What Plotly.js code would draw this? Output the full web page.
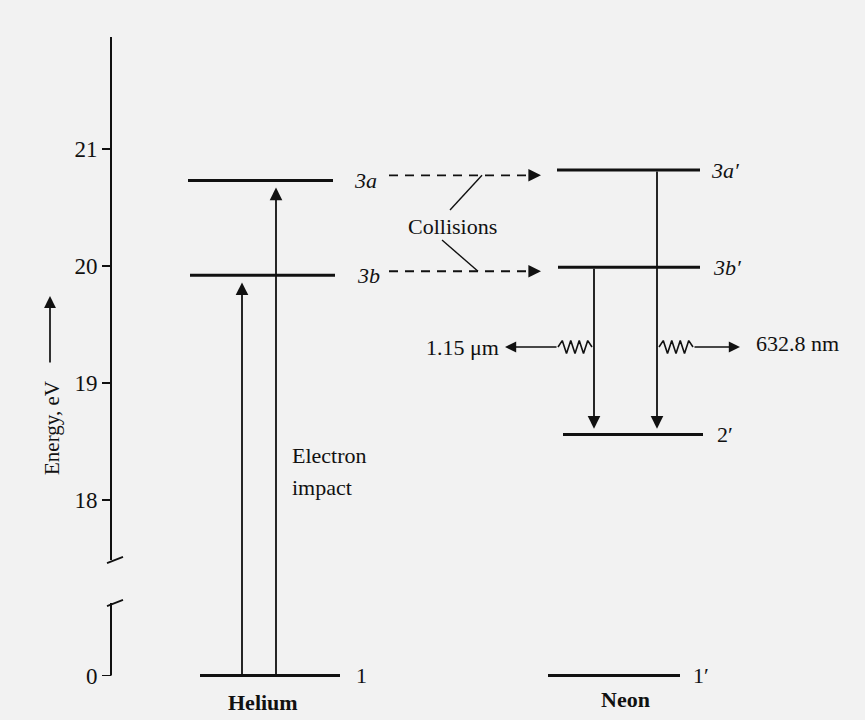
<!DOCTYPE html>
<html>
<head>
<meta charset="utf-8">
<script src="https://cdn.plot.ly/plotly-3.0.1.min.js"></script>
<style>
  html, body { margin: 0; padding: 0; background: #f2f2f2; }
  #chart { width: 865px; height: 720px; }
</style>
</head>
<body>
<div id="chart"></div>
<script>
// ---------------- DATA ----------------
const heliumLevels   = ['1', '3a', '3b'];
const heliumEnergies = [0, 20.73, 19.92];          // eV
const neonLevels     = ['1′', '3a′', '3b′', '2′'];
const neonEnergies   = [0, 20.82, 19.99, 18.56];   // eV
const tickValues     = [0, 18, 19, 20, 21];
const atomNames      = ['Helium', 'Neon'];
const pumpTargets    = ['3b', '3a'];               // electron impact (He 1 -> 3b, 3a)
const transferPairs  = [['3a', '3a′'], ['3b', '3b′']];  // collisions
const laserFrom      = ['3b′', '3a′'];             // to 2′
const laserTo        = ['2′', '2′'];
const laserLabels    = ['1.15 μm', '632.8 nm'];
const axisTitle      = 'Energy, eV';

// ---------------- LAYOUT / STYLE ----------------
const INK = '#111111';
const SERIF = 'Liberation Serif, Times New Roman, serif';
const BREAK_BASE = 16.5;                 // where 0 eV is drawn below the axis break
const yPos = E => (E === 0 ? BREAK_BASE : E);
const PX = 117;                          // px per eV (for pixel-sized offsets)
const Y_TOP = 20 + 266 / PX, Y_BOT = 20 - 454 / PX;

const heEnergy = Object.fromEntries(heliumLevels.map((n, i) => [n, heliumEnergies[i]]));
const neEnergy = Object.fromEntries(neonLevels.map((n, i) => [n, neonEnergies[i]]));
const heSpan = {'1': [200, 340], '3a': [188, 333], '3b': [190, 335]};
const neSpan = {'1′': [548, 680], '3a′': [557, 700], '3b′': [558, 700], '2′': [563, 703]};
const heLabelGap = {'1': 14, '3a': 19, '3b': 20};
const neLabelGap = {'1′': 11, '3a′': 9, '3b′': 11, '2′': 12};
const AXIS_X = 111;

const traces = [];
const annotations = [];
const line = (x, y, w, dash) => traces.push({
  type: 'scatter', mode: 'lines', x, y, hoverinfo: 'skip', showlegend: false,
  line: {color: INK, width: w, dash: dash || 'solid'}
});
const arrow = (x, y, ax, ay, w) => annotations.push({
  x, y, ax, ay, xref: 'x', yref: 'y', axref: 'x', ayref: 'y', text: '',
  showarrow: true, arrowhead: 2, arrowsize: 1.4, arrowwidth: w || 1.8,
  arrowcolor: INK, standoff: 0, startstandoff: 0
});
const label = (text, x, y, opts) => annotations.push(Object.assign({
  text, x, y, xref: 'x', yref: 'y', showarrow: false,
  font: {family: SERIF, size: 22, color: INK}, xanchor: 'left', yanchor: 'middle'
}, opts || {}));

// broken energy axis
const upperTop = 20 + (266 - 37) / PX, upperBot = 20 - (560 - 266) / PX;
const lowerTop = 20 - (603 - 266) / PX;
line([AXIS_X, AXIS_X], [upperTop, upperBot], 2);
line([AXIS_X, AXIS_X], [lowerTop, BREAK_BASE], 2);
line([AXIS_X - 4, AXIS_X + 12], [upperBot - 0.027, upperBot + 0.027], 1.7);
line([AXIS_X - 4, AXIS_X + 12], [lowerTop - 0.027, lowerTop + 0.027], 1.7);

// axis title + arrow
label(axisTitle, 52, 20 - (428 - 266) / PX, {textangle: -90, xanchor: 'center', font: {family: SERIF, size: 21, color: INK}});
arrow(50, 20 - (296 - 266) / PX, 50, 20 - (364 - 266) / PX, 1.7);

// energy levels
heliumLevels.forEach(n => {
  const s = heSpan[n], y = yPos(heEnergy[n]);
  line(s, [y, y], 3);
  label(n === '1' ? '1' : '<i>' + n + '</i>', s[1] + heLabelGap[n], y);
});
neonLevels.forEach(n => {
  const s = neSpan[n], y = yPos(neEnergy[n]);
  line(s, [y, y], 3);
  label(n === '1′' || n === '2′' ? n : '<i>' + n + '</i>', s[1] + neLabelGap[n], y);
});

// atom names under the ground levels
label('<b>' + atomNames[0] + '</b>', (heSpan['1'][0] + heSpan['1'][1]) / 2 - 7, yPos(0), {xanchor: 'center', yshift: -27});
label('<b>' + atomNames[1] + '</b>', (neSpan['1′'][0] + neSpan['1′'][1]) / 2 + 11, yPos(0), {xanchor: 'center', yshift: -24});

// electron impact pumping
const pumpX = {'3b': 242, '3a': 276};
pumpTargets.forEach(n => arrow(pumpX[n], heEnergy[n] - 0.06, pumpX[n], yPos(0)));
label('Electron', 290, 20 - (455 - 266) / PX);
label('impact', 290, 20 - (487 - 266) / PX);

// collisional transfer (dashed arrows)
const dashY = [];
transferPairs.forEach(([he, ne]) => {
  const y = (heEnergy[he] + neEnergy[ne]) / 2;
  dashY.push(y);
  line([389, 530], [y, y], 1.8, '9px,7px');
  arrow(541, y, 528, y, 1.8);
});
label('Collisions', 452, 20 - (226 - 266) / PX, {xanchor: 'center'});
line([450, 482], [20 - (210 - 266) / PX, dashY[0]], 1.4);
line([442, 478], [20 - (240 - 266) / PX, dashY[1]], 1.4);

// laser transitions with wavy emission arrows
const laserX = [594, 657];
const emitY = 20 - (347 - 266) / PX;
laserFrom.forEach((from, i) => {
  const x = laserX[i];
  arrow(x, neEnergy[laserTo[i]] + 0.05, x, neEnergy[from], 1.8);
  const dir = i === 0 ? -1 : 1;
  const zx = [], zy = [];
  const steps = 8, len = 34;
  for (let k = 0; k <= steps; k++) {
    zx.push(x + dir * (2 + len * k / steps));
    zy.push(emitY + (k === 0 || k === steps ? 0 : (k % 2 ? 0.055 : -0.055)));
  }
  line(zx, zy, 1.6);
  const startX = x + dir * (2 + len);
  const tipX = i === 0 ? 505 : 740;
  arrow(tipX, emitY, startX, emitY, 1.6);
  if (i === 0) label(laserLabels[i], 501, emitY, {xanchor: 'right'});
  else label(laserLabels[i], 754, emitY + 0.03);
});

const layout = {
  width: 865, height: 720,
  margin: {l: 0, r: 0, t: 0, b: 0, pad: 0},
  paper_bgcolor: '#f2f2f2', plot_bgcolor: 'rgba(0,0,0,0)',
  showlegend: false,
  xaxis: {range: [0, 865], visible: false, fixedrange: true},
  yaxis: {
    range: [Y_BOT, Y_TOP], anchor: 'free', position: AXIS_X / 865,
    showline: false, showgrid: false, zeroline: false,
    ticks: 'outside', ticklen: 9, tickwidth: 1.7, tickcolor: INK,
    tickvals: tickValues.map(yPos), ticktext: tickValues.map(String),
    tickfont: {family: SERIF, size: 23, color: INK},
    automargin: false, fixedrange: true
  },
  annotations
};

Plotly.newPlot('chart', traces, layout, {displayModeBar: false, staticPlot: true});
</script>
</body>
</html>
